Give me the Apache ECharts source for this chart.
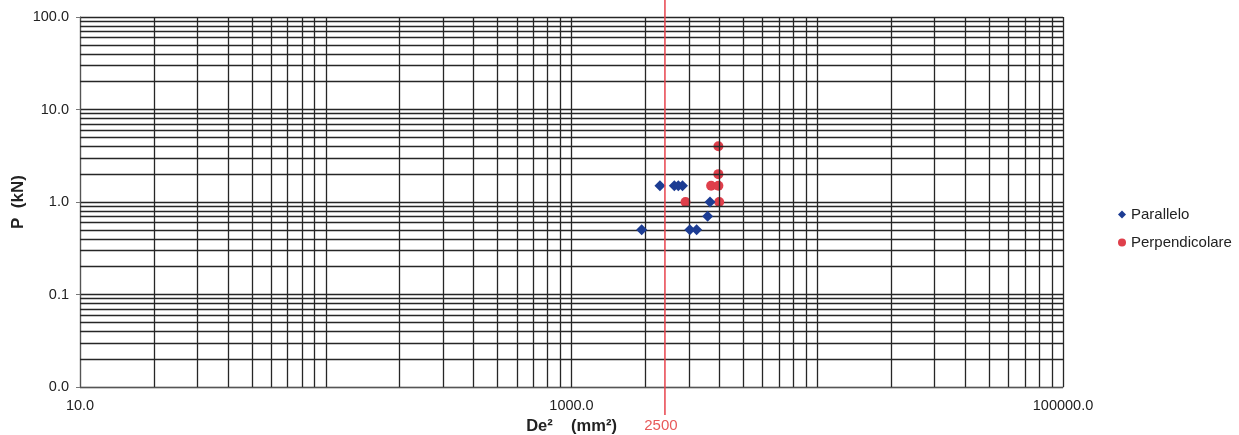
<!DOCTYPE html>
<html>
<head>
<meta charset="utf-8">
<script src="https://cdn.jsdelivr.net/npm/echarts@6/dist/echarts.min.js"></script>
<style>
html,body{margin:0;padding:0;background:#fff;}
#c{width:1239px;height:435px;}
</style>
</head>
<body>
<div id="c"></div>
<script>
// ---- data ----
const paralleloX = [1930, 2290, 2620, 2720, 2830, 3030, 3230, 3580, 3660];
const paralleloY = [0.5, 1.5, 1.5, 1.5, 1.5, 0.5, 0.5, 0.7, 1.0];
const perpendicolareX = [3960, 3960, 3700, 3960, 2910, 3990];
const perpendicolareY = [4.0, 2.0, 1.5, 1.5, 1.0, 1.0];
const xLabelValues = [10, 1000, 100000];
const xDecades = [10, 100, 1000, 10000];
const yDecades = [0.01, 0.1, 1, 10];
const minorMultipliers = [2, 3, 4, 5, 6, 7, 8, 9];
const refLineValue = 2400;
const refLineLabel = '2500';

const xMinor = [];
xDecades.forEach(d => minorMultipliers.forEach(m => xMinor.push(d * m)));
const yMinor = [];
yDecades.forEach(d => minorMultipliers.forEach(m => yMinor.push(d * m)));

const gridColor = '#262626';
const gridWidth = 1.3;
const FONT = 'Liberation Sans, Arial, sans-serif';

const chart = echarts.init(document.getElementById('c'), null, {renderer: 'canvas'});

const option = {
  animation: false,
  backgroundColor: '#fff',
  grid: {left: 80, right: 176, top: 17, bottom: 48, containLabel: false, outerBoundsMode: 'none'},
  legend: {
    orient: 'vertical',
    left: 1113,
    top: 202,
    itemWidth: 8,
    itemHeight: 8,
    itemGap: 13,
    textStyle: {fontFamily: FONT, fontSize: 15, color: '#222'},
    data: [
      {name: 'Parallelo', icon: 'diamond'},
      {name: 'Perpendicolare', icon: 'circle'}
    ]
  },
  xAxis: {
    type: 'log',
    logBase: 10,
    min: 10,
    max: 100000,
    name: 'De\u00B2    (mm\u00B2)',
    nameLocation: 'middle',
    nameGap: 30,
    nameTextStyle: {fontFamily: FONT, fontSize: 16.5, fontWeight: 'bold', color: '#222'},
    axisLine: {show: true, lineStyle: {color: '#555', width: 1}},
    axisTick: {show: false},
    axisLabel: {
      margin: 11,
      fontFamily: FONT, fontSize: 14.5, color: '#222',
      formatter: function (v) {
        for (const t of xLabelValues) { if (Math.abs(v - t) / t < 1e-6) return t.toFixed(1); }
        return '';
      }
    },
    splitLine: {show: true, lineStyle: {color: gridColor, width: gridWidth}}
  },
  yAxis: {
    type: 'log',
    logBase: 10,
    min: 0.01,
    max: 100,
    name: 'P  (kN)',
    nameLocation: 'middle',
    nameGap: 53,
    nameMoveOverlap: false,
    nameTextStyle: {fontFamily: FONT, fontSize: 17, fontWeight: 'bold', color: '#222'},
    axisLine: {show: true, lineStyle: {color: '#555', width: 1}},
    axisTick: {show: true, length: 4, lineStyle: {color: '#777'}},
    axisLabel: {
      margin: 11,
      fontFamily: FONT, fontSize: 14.5, color: '#222',
      formatter: function (v) { return v.toFixed(1); }
    },
    splitLine: {show: true, lineStyle: {color: gridColor, width: gridWidth}}
  },
  series: [
    {
      name: 'gridMinor',
      type: 'scatter',
      data: [],
      silent: true,
      markLine: {
        silent: true,
        symbol: ['none', 'none'],
        label: {show: false},
        lineStyle: {color: gridColor, width: gridWidth, type: 'solid', opacity: 1},
        emphasis: {disabled: true},
        data: xMinor.map(v => ({xAxis: v})).concat(yMinor.map(v => ({yAxis: v})))
      }
    },
    {
      name: 'Parallelo',
      type: 'scatter',
      symbol: 'diamond',
      symbolSize: 11,
      itemStyle: {color: '#1c3c93', opacity: 1},
      z: 5,
      data: paralleloX.map((x, i) => [x, paralleloY[i]])
    },
    {
      name: 'Perpendicolare',
      type: 'scatter',
      symbol: 'circle',
      symbolSize: 10,
      itemStyle: {color: '#df3f4b', opacity: 1},
      z: 4,
      data: perpendicolareX.map((x, i) => [x, perpendicolareY[i]])
    }
  ]
};

chart.setOption(option);

const px = chart.convertToPixel({xAxisIndex: 0}, refLineValue);
chart.setOption({
  graphic: [
    {
      type: 'line',
      z: 10,
      shape: {x1: px, y1: 0, x2: px, y2: 415},
      style: {stroke: '#e8434d', lineWidth: 1.5}
    },
    {
      type: 'text',
      z: 10,
      x: px - 4,
      y: 426,
      style: {
        text: refLineLabel,
        fill: '#e85a5a',
        font: '15px ' + FONT,
        textAlign: 'center',
        textVerticalAlign: 'middle'
      }
    }
  ]
});
</script>
</body>
</html>
